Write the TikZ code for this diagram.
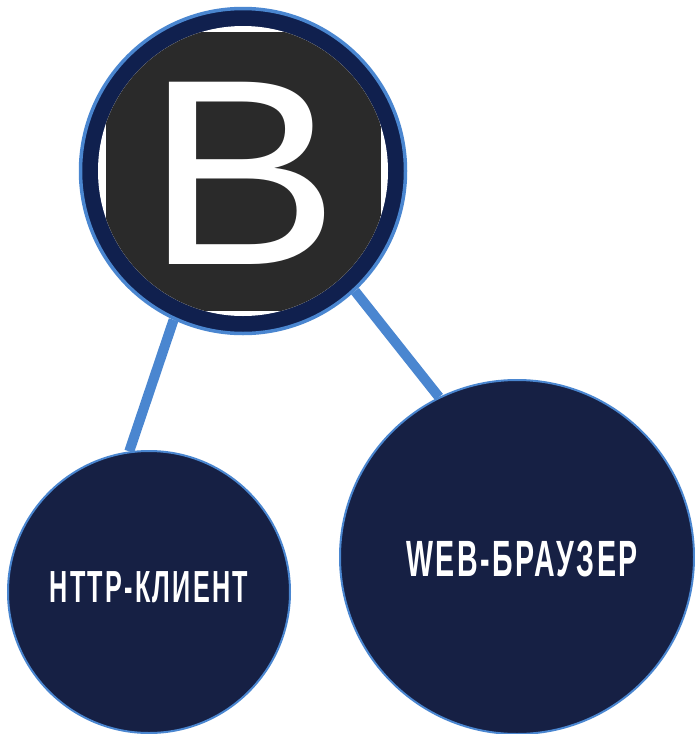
\documentclass[tikz,border=0pt]{standalone}
\usepackage{fontspec}
\setmainfont{Liberation Sans}
\newfontfamily\labelfont[FakeStretch=0.56,LetterSpace=5]{Liberation Sans Bold}
\newfontfamily\hubfont[FakeStretch=1.1]{Liberation Sans}
\usetikzlibrary{backgrounds}
\definecolor{ringblue}{HTML}{4A86D0}
\definecolor{hubnavy}{HTML}{10204E}
\definecolor{leafnavy}{HTML}{162044}
\definecolor{hubgrey}{HTML}{2A2A2A}

\begin{document}
\begin{tikzpicture}[x=1pt,y=-1pt]
  \useasboundingbox (0,0) rectangle (695,734);
  \begin{scope}[every node/.style={draw=ringblue,circle,inner sep=0pt}]
    \node[fill=hubnavy,line width=3.5pt,minimum size=325pt] (hubB) at(243,171) {};
    \node[fill=leafnavy,line width=2pt,minimum size=282pt] (clientHttp) at(149,592) {};
    \node[fill=leafnavy,line width=2pt,minimum size=354pt] (clientWeb) at(517,557) {};
  \end{scope}
  \node[circle,fill=white,minimum size=290pt,inner sep=0pt,
    path picture={
      \fill[hubgrey] (path picture bounding box.center) ++(-137.5,-139.5) rectangle ++(275,279);
    }] (hubDisc) at(hubB) {};
  \begin{scope}[every node/.style={text=white,inner sep=0pt}]
    \node[font=\hubfont\fontsize{265}{265}\selectfont] (hubLetter) at(243,173) {B};
    \node[font=\labelfont\fontsize{45}{45}\selectfont] (labelHttp) at(149,587) {HTTP-КЛИЕНТ};
    \node[font=\labelfont\fontsize{51}{51}\selectfont] (labelWeb) at(522,559) {WEB-БРАУЗЕР};
  \end{scope}
  \begin{scope}[on background layer,every path/.style={draw=ringblue,line width=10pt}]
    \path (hubB.245) -- (clientHttp.98);
    \path (hubB.-47) -- (clientWeb.116);
  \end{scope}
\end{tikzpicture}
\end{document}
